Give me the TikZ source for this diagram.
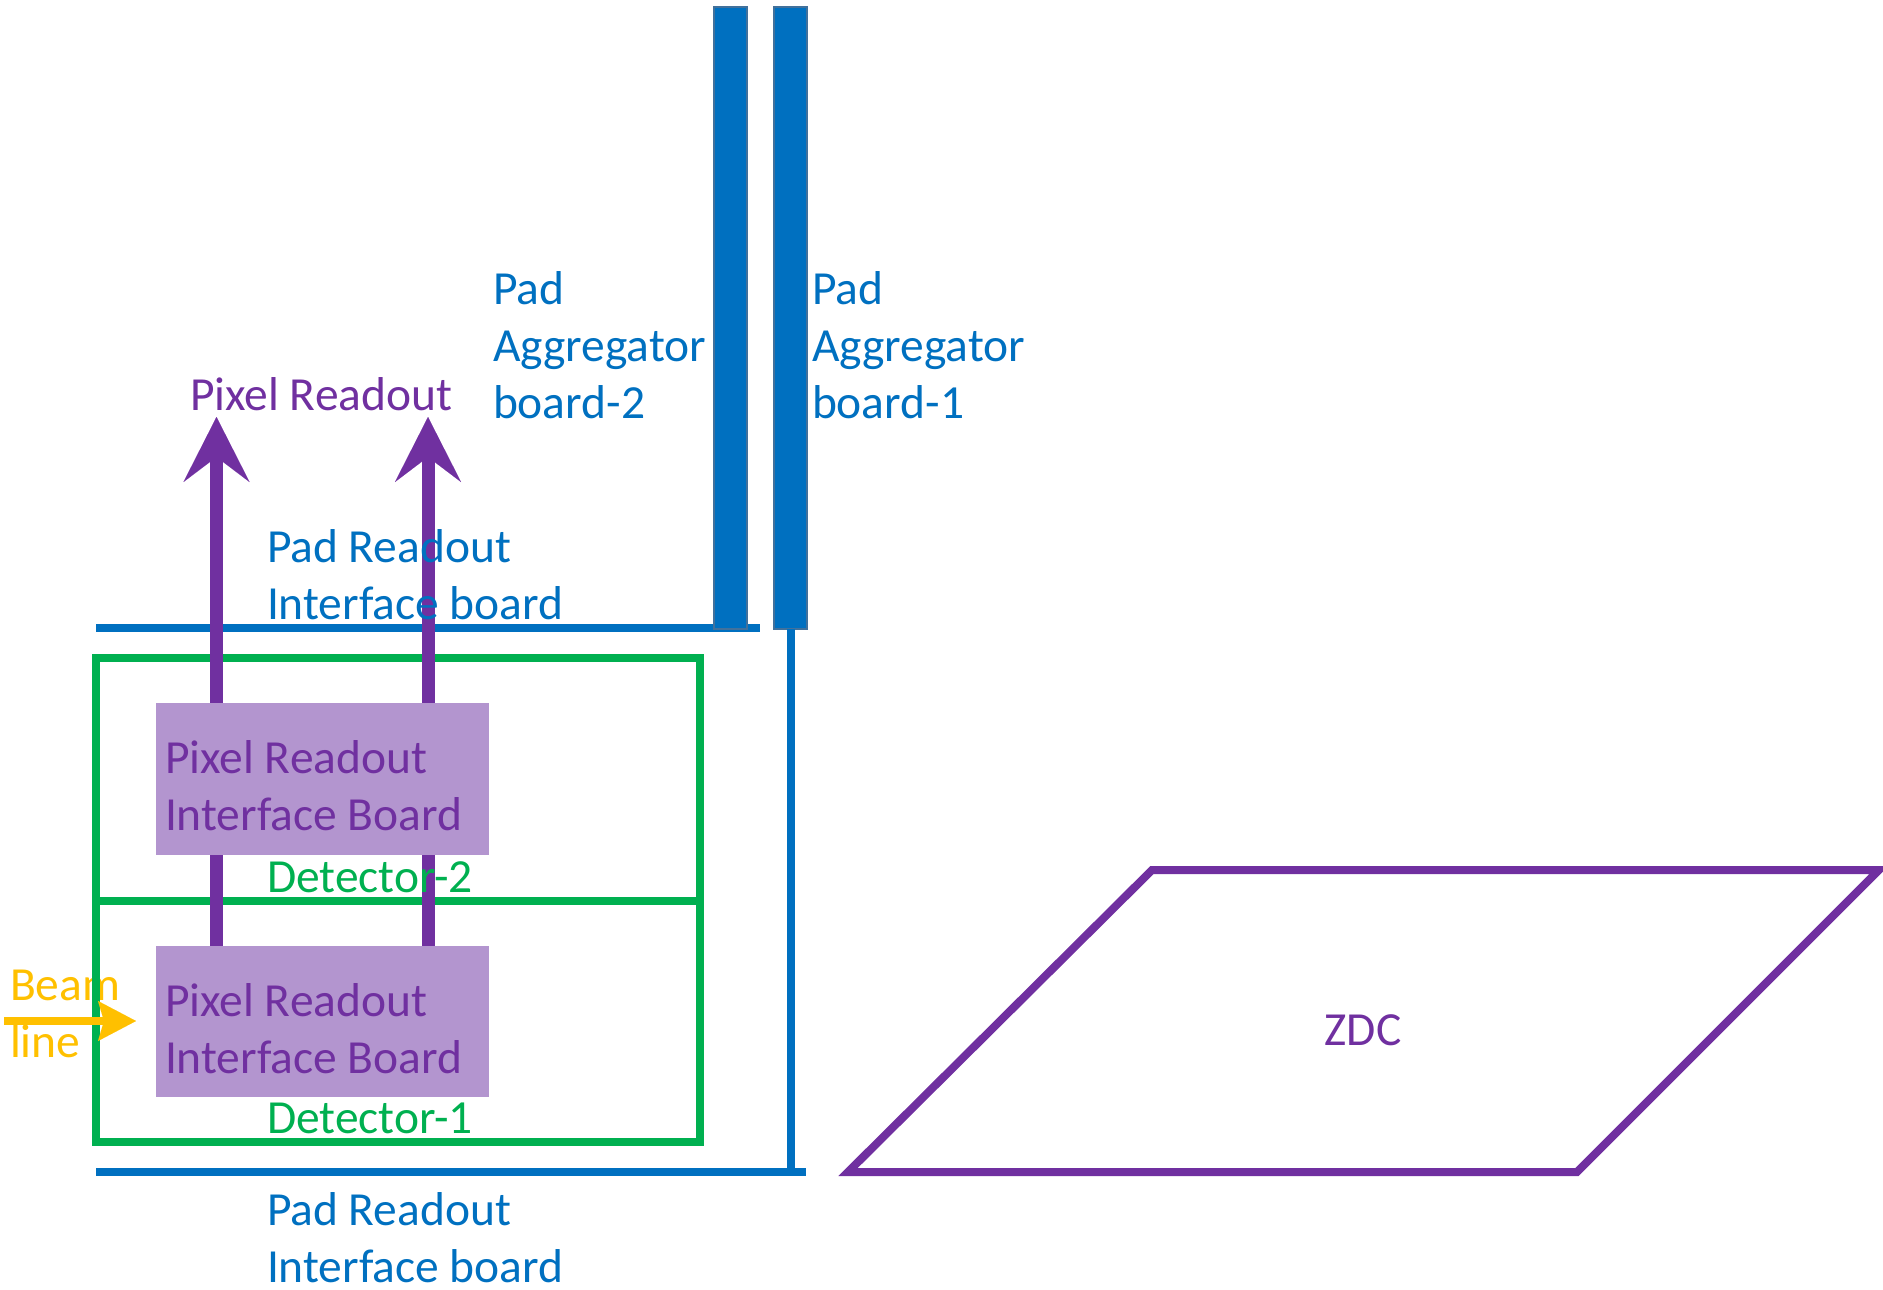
\documentclass[tikz,border=0pt]{standalone}
\usepackage{fontspec}
\setmainfont{Carlito}
\usetikzlibrary{arrows.meta}
\definecolor{cblue}{HTML}{0070C0}
\definecolor{cgreen}{HTML}{00B050}
\definecolor{cpurple}{HTML}{7030A0}
\definecolor{clilac}{HTML}{B395CF}
\definecolor{corange}{HTML}{FFC000}
\definecolor{cbarline}{HTML}{41719C}
\begin{document}
\begin{tikzpicture}[x=1pt,y=-1pt,
  lbl/.style={inner sep=0pt, outer sep=0pt, anchor=base west, align=left,
    font=\fontsize{47.5}{57}\selectfont},
  bluelbl/.style={lbl, text=cblue},
  purplbl/.style={lbl, text=cpurple},
  greenlbl/.style={lbl, text=cgreen},
  orangelbl/.style={lbl, text=corange},
  bline/.style={draw=cblue, line width=8pt},
  detbox/.style={draw=cgreen, line width=8pt, inner sep=0pt, outer sep=0pt, minimum width=604.5pt},
  pbox/.style={fill=clilac, inner sep=0pt, outer sep=0pt, minimum width=333pt},
  pshaft/.style={draw=cpurple, line width=13pt},
  parrow/.style={pshaft, -{Stealth[length=65pt, width=66pt, inset=25pt, line width=0.01pt]}},
  barrow/.style={draw=corange, line width=8pt, -{Stealth[length=38pt, width=40pt, inset=6pt, line width=0.01pt]}},
  aggbar/.style={fill=cblue, draw=cbarline, line width=2.5pt, inner sep=0pt, outer sep=0pt,
    minimum width=33pt, minimum height=622pt},
  zdcshape/.style={draw=cpurple, line width=8pt, line join=miter}
]
\useasboundingbox (0,0) rectangle (1883,1290);

% Pad readout interface boards (blue lines)
\coordinate (tl) at (96,628);
\coordinate (tr) at (760,628);
\coordinate (bl) at (96,1172);
\coordinate (br) at (806,1172);
\draw[bline] (tl) -- (tr);
\draw[bline] (bl) -- (br);

% Beam line label (under the detector frame)
\node[orangelbl] (beam) at (10,1057) {Beam\\line};

% Detectors
\node[detbox, minimum height=243pt] (det2) at (397.75,779.5) {};
\node[detbox, minimum height=241pt] (det1) at (397.75,1021.5) {};

% Beam arrow
\coordinate (beamstart) at (4,1021);
\coordinate (beamtip) at (136,1021);
\draw[barrow] (beamstart) -- (beamtip);

% Pixel readout interface boards
\coordinate (tipA) at (216.5,417);
\coordinate (tipB) at (428,417);
\node[pbox, minimum height=152pt] (b2) at (322.5,779) {};
\node[pbox, minimum height=151pt] (b1) at (322.5,1021.5) {};
\draw[pshaft] (b1.north -| tipA) -- (b2.south -| tipA);
\draw[pshaft] (b1.north -| tipB) -- (b2.south -| tipB);
\draw[parrow] (b2.north -| tipA) -- (tipA);
\draw[parrow] (b2.north -| tipB) -- (tipB);
\node[pbox, minimum height=152pt] at (b2) {};
\node[pbox, minimum height=151pt] at (b1) {};
\node[purplbl] (b2txt) at (165,830) {Pixel Readout\\Interface Board};
\node[purplbl] (b1txt) at (165,1073) {Pixel Readout\\Interface Board};
\node[purplbl] (pixtop) at (190,410) {Pixel Readout};

% Detector labels (over the arrows)
\node[greenlbl] (d2lbl) at (267,892) {Detector-2};
\node[greenlbl] (d1lbl) at (267,1133) {Detector-1};

% Pad aggregator boards
\node[aggbar] (agg2bar) at (730.5,318) {};
\node[aggbar] (agg1bar) at (790.5,318) {};
\draw[bline] (agg1bar.south) -- (agg1bar.south |- br);

% Blue labels
\node[bluelbl] (padtop) at (267,619) {Pad Readout\\Interface board};
\node[bluelbl] (padbot) at (267,1282) {Pad Readout\\Interface board};
\node[bluelbl] (agg2lbl) at (493,418) {Pad\\Aggregator\\board-2};
\node[bluelbl] (agg1lbl) at (812,418) {Pad\\Aggregator\\board-1};

% ZDC
\coordinate (z1) at (1152,870);
\coordinate (z2) at (1879,870);
\coordinate (z3) at (1577,1172);
\coordinate (z4) at (848,1172);
\draw[zdcshape] (z1) -- (z2) -- (z3) -- (z4) -- cycle;
\node[inner sep=0pt, text=cpurple, font=\fontsize{47.5}{57}\selectfont] (zdc) at (1363,1030) {ZDC};
\end{tikzpicture}
\end{document}
